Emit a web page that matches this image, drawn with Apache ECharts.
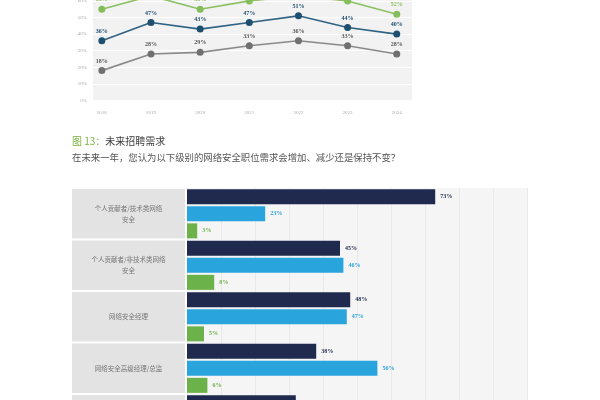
<!DOCTYPE html>
<html><head><meta charset="utf-8">
<script src="https://cdn.jsdelivr.net/npm/echarts@6/dist/echarts.min.js"></script>
<style>html,body{margin:0;padding:0;background:#fff}#c{width:600px;height:400px}</style>
</head><body><div id="c"></div>
<script>
// ---- line chart (top, partially cut) ----
const years = [2018, 2019, 2020, 2021, 2022, 2023, 2024];
const greenLine = [55, 63, 55, 60, 63, 60, 52];
const blueLine = [36, 47, 43, 47, 51, 44, 40];
const grayLine = [18, 28, 29, 33, 36, 33, 28];

// ---- bar chart ----
const roles = ['个人贡献者/技术类网络\n安全', '个人贡献者/非技术类网络\n安全', '网络安全经理', '网络安全高级经理/总监', '网络安全执行官'];
const increase = [73, 45, 48, 38, 32];
const unchanged = [23, 46, 47, 56, 52];
const decrease = [3, 8, 5, 6, 16];

const figTitle = '图 13：';
const figName = '未来招聘需求';
const question = '在未来一年，您认为以下级别的网络安全职位需求会增加、减少还是保持不变？';

const CJK = '"Noto Sans CJK SC", sans-serif';
const SERIF = '"Liberation Serif", "DejaVu Serif", serif';

function lineSeries(name, vals, lineColor, dotColor, labelColor) {
  return {
    name, type: 'line', xAxisIndex: 0, yAxisIndex: 0,
    data: years.map((y, i) => [y, vals[i]]),
    symbol: 'circle', symbolSize: 7, clip: false,
    lineStyle: { color: lineColor, width: 1.6 },
    itemStyle: { color: dotColor },
    label: { show: true, position: 'top', distance: 3, fontSize: 6, fontWeight: 'bold',
      fontFamily: SERIF, color: labelColor, formatter: p => p.value[1] + '%' },
    emphasis: { disabled: true }, animation: false
  };
}
function barSeries(name, vals, color, labelColor) {
  return {
    name, type: 'bar', xAxisIndex: 1, yAxisIndex: 1, data: vals,
    barWidth: 15, barGap: '14%',
    itemStyle: { color },
    label: { show: true, position: 'right', distance: 5, fontSize: 6, fontWeight: 'bold',
      fontFamily: SERIF, color: labelColor, formatter: '{c}%' },
    emphasis: { disabled: true }, animation: false
  };
}

const chart = echarts.init(document.getElementById('c'), null, { renderer: 'canvas' });
chart.setOption({
  animation: false,
  backgroundColor: '#fff',
  title: [
    { left: 72, top: 136, padding: 0, text: '{g|' + figTitle + '}{d|' + figName + '}',
      textStyle: { rich: {
        g: { color: '#7cb342', fontSize: 10, fontWeight: 'normal', fontFamily: CJK },
        d: { color: '#3a3a3a', fontSize: 10, fontWeight: 'normal', fontFamily: CJK }
      } } },
    { left: 72, top: 153, padding: 0, text: question,
      textStyle: { color: '#555', fontSize: 9.4, fontWeight: 'normal', fontFamily: CJK } }
  ],
  grid: [
    { left: 93, width: 319, top: -15.7, height: 116.2, show: true, backgroundColor: '#f2f2f2', borderWidth: 0, outerBoundsMode: 'none', containLabel: false },
    { left: 187, width: 340, top: 188, height: 257.5, show: true, backgroundColor: '#f5f5f5', borderWidth: 0, outerBoundsMode: 'none', containLabel: false }
  ],
  xAxis: [
    { gridIndex: 0, type: 'value', min: 2017.82, max: 2024.31,
      axisLine: { show: false }, axisTick: { show: false }, splitLine: { show: false },
      axisLabel: { customValues: years, formatter: v => String(v), fontSize: 5, color: '#aaa', margin: 10, fontFamily: SERIF } },
    { gridIndex: 1, type: 'value', min: 0, max: 100, interval: 10,
      axisLine: { show: false }, axisTick: { show: false }, axisLabel: { show: false },
      splitLine: { lineStyle: { color: '#e9e9e9', width: 1 } } }
  ],
  yAxis: [
    { gridIndex: 0, type: 'value', min: 0, max: 70, interval: 10,
      axisLine: { show: false }, axisTick: { show: false },
      axisLabel: { formatter: '{value}%', fontSize: 5, color: '#aaa', margin: 6, fontFamily: SERIF },
      splitLine: { lineStyle: { color: '#ffffff', width: 1 } } },
    { gridIndex: 1, type: 'category', data: roles, inverse: true,
      axisLine: { show: false }, axisTick: { show: false }, splitLine: { show: false },
      axisLabel: { interval: 0, align: 'center', verticalAlign: 'middle', margin: 58.5,
        width: 113, height: 49.5, backgroundColor: '#e3e3e3',
        fontSize: 6.5, lineHeight: 11, color: '#777', fontFamily: CJK } }
  ],
  series: [
    lineSeries('A', greenLine, '#8cc063', '#86bd5c', '#8cc063'),
    lineSeries('B', blueLine, '#2f6283', '#1e4f6f', '#1e4f6f'),
    lineSeries('C', grayLine, '#8a8a8a', '#707070', '#555'),
    barSeries('增加', increase, '#1f2a4e', '#1f2a4e'),
    barSeries('保持不变', unchanged, '#29a4dd', '#29a4dd'),
    barSeries('减少', decrease, '#6cb24a', '#6cb24a')
  ]
});
</script></body></html>
